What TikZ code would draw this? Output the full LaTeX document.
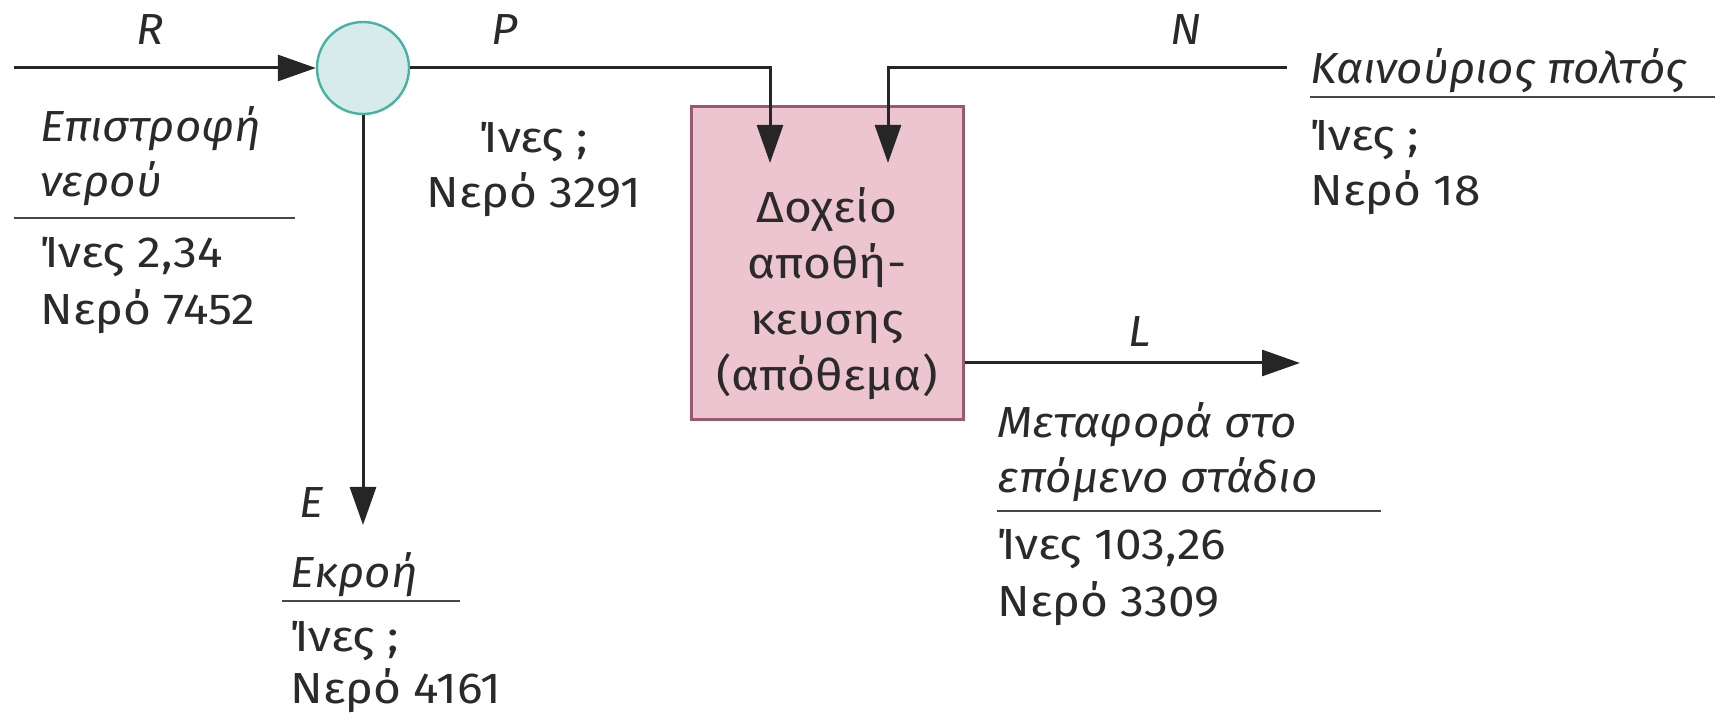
\documentclass[tikz,border=0pt]{standalone}
\usepackage{fontspec}
\setmainfont{Fira Sans}[UprightFeatures={FakeStretch=1.1},ItalicFeatures={FakeStretch=1.05}]
\usetikzlibrary{arrows.meta}
\definecolor{linec}{HTML}{262626}
\definecolor{circfill}{HTML}{D6EBEA}
\definecolor{circdraw}{HTML}{45B3A3}
\definecolor{boxfill}{HTML}{EDC5D0}
\definecolor{boxdraw}{HTML}{9B5870}
\definecolor{textc}{HTML}{2A2A2A}
\begin{document}
\begin{tikzpicture}[x=0.5pt,y=-0.5pt,
  flow/.style={draw=linec,line width=1.5pt,-{Triangle[length=19pt,width=13pt]}},
  uline/.style={draw=linec!85,line width=1pt},
  lbl/.style={anchor=base west,inner sep=0pt,text=textc,font=\fontsize{21.75}{28}\selectfont},
  clbl/.style={lbl,anchor=base},
  ilbl/.style={lbl,font=\fontsize{21.75}{28}\selectfont\itshape},
  iclbl/.style={ilbl,anchor=base}]
\useasboundingbox (0,0) rectangle (1715,715);

% main elements
\node[circle,draw=circdraw,fill=circfill,line width=1.2pt,minimum size=46pt,inner sep=0pt] (mix) at (363,68) {};
\node[draw=boxdraw,fill=boxfill,line width=1.5pt,minimum width=136pt,minimum height=156.5pt,inner sep=0pt] (tank) at (827,263.5) {};

% connector ends
\coordinate (rStart) at (14,68);
\coordinate (pIn) at (770,163);
\coordinate (nStart) at (1287,68);
\coordinate (nIn) at (888,163);
\coordinate (lEnd) at (1300,363);
\coordinate (eEnd) at (363,525);

\draw[flow] (rStart) -- (mix.west);
\draw[flow] (mix.east) -| (pIn);
\draw[flow] (nStart) -| (nIn);
\draw[flow] (tank.east |- lEnd) -- (lEnd);
\draw[flow] (mix.south) -- (eEnd);

% tank text
\node[clbl] (t1) at (827,223) {Δοχείο};
\node[clbl] (t2) at (827,279) {αποθή-};
\node[clbl] (t3) at (827,335) {κευσης};
\node[clbl] (t4) at (827,391) {(απόθεμα)};

% stream letters
\node[iclbl] (lR) at (150,45) {R};
\node[iclbl] (lP) at (505,45) {P};
\node[iclbl] (lN) at (1186,45) {N};
\node[iclbl] (lL) at (1140,347) {L};
\node[iclbl] (lE) at (312,518) {E};

% return water
\node[ilbl] (r1) at (40,142) {Επιστροφή};
\node[ilbl] (r2) at (40,197) {νερού};
\draw[uline] (14,218) -- (295,218);
\node[lbl] (r3) at (40,268) {Ίνες 2,34};
\node[lbl] (r4) at (40,325) {Νερό 7452};

% P data
\node[clbl] (p1) at (534,153) {Ίνες ;};
\node[clbl] (p2) at (534,208) {Νερό 3291};

% new pulp
\node[ilbl] (n1) at (1310,84) {Καινούριος πολτός};
\draw[uline] (1310,97) -- (1715,97);
\node[lbl] (n2) at (1310,151) {Ίνες ;};
\node[lbl] (n3) at (1310,206) {Νερό 18};

% transfer
\node[ilbl] (m1) at (997,438) {Μεταφορά στο};
\node[ilbl] (m2) at (997,493) {επόμενο στάδιο};
\draw[uline] (997,511) -- (1381,511);
\node[lbl] (m3) at (997,560) {Ίνες 103,26};
\node[lbl] (m4) at (997,617) {Νερό 3309};

% effluent
\node[ilbl] (e1) at (290,588) {Εκροή};
\draw[uline] (282,601) -- (460,601);
\node[lbl] (e2) at (290,652) {Ίνες ;};
\node[lbl] (e3) at (290,704) {Νερό 4161};
\end{tikzpicture}
\end{document}
